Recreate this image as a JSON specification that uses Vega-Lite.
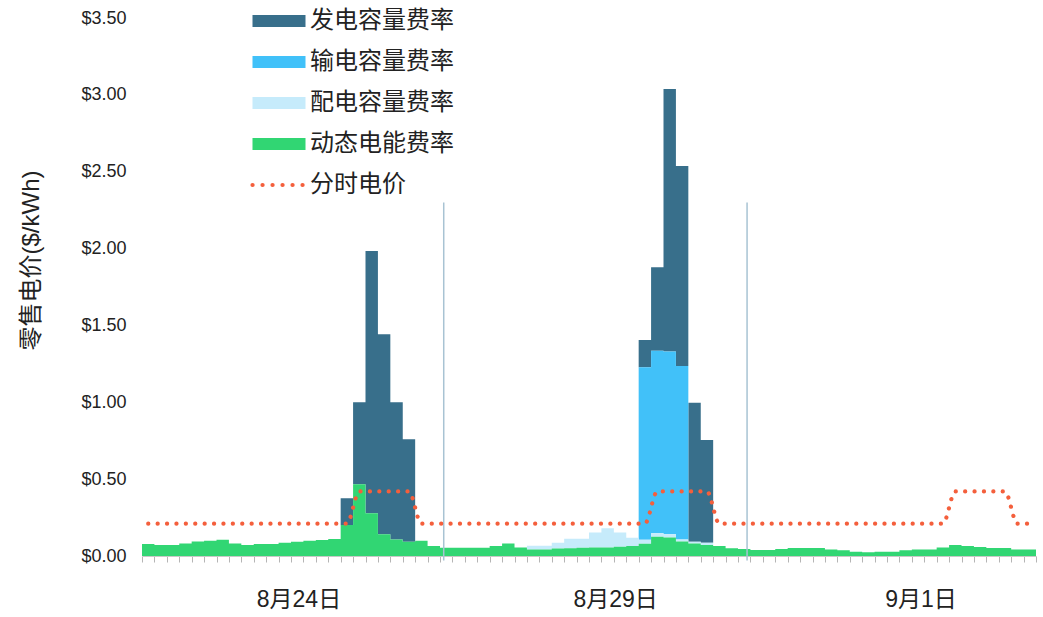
{
  "$schema": "https://vega.github.io/schema/vega-lite/v6.json",
  "width": 894,
  "height": 538,
  "autosize": {"type": "none"},
  "padding": {"left": 142, "top": 18, "right": 7, "bottom": 61},
  "background": "white",
  "config": {
    "view": {"stroke": null},
    "font": "Liberation Sans, Noto Sans CJK SC, sans-serif",
    "axis": {"grid": false}
  },
  "resolve": {"axis": {"x": "independent"}},
  "datasets": {
    "order": [
      {"k": "g", "series": "发电容量费率", "o": 4},
      {"k": "t", "series": "输电容量费率", "o": 3},
      {"k": "d", "series": "配电容量费率", "o": 2},
      {"k": "e", "series": "动态电能费率", "o": 1}
    ],
    "rates": [
      {"h": 0, "e": 0.078, "d": 0, "t": 0, "g": 0},
      {"h": 1, "e": 0.072, "d": 0, "t": 0, "g": 0},
      {"h": 2, "e": 0.072, "d": 0, "t": 0, "g": 0},
      {"h": 3, "e": 0.082, "d": 0, "t": 0, "g": 0},
      {"h": 4, "e": 0.095, "d": 0, "t": 0, "g": 0},
      {"h": 5, "e": 0.100, "d": 0, "t": 0, "g": 0},
      {"h": 6, "e": 0.106, "d": 0, "t": 0, "g": 0},
      {"h": 7, "e": 0.082, "d": 0, "t": 0, "g": 0},
      {"h": 8, "e": 0.072, "d": 0, "t": 0, "g": 0},
      {"h": 9, "e": 0.078, "d": 0, "t": 0, "g": 0},
      {"h": 10, "e": 0.078, "d": 0, "t": 0, "g": 0},
      {"h": 11, "e": 0.087, "d": 0, "t": 0, "g": 0},
      {"h": 12, "e": 0.093, "d": 0, "t": 0, "g": 0},
      {"h": 13, "e": 0.099, "d": 0, "t": 0, "g": 0},
      {"h": 14, "e": 0.104, "d": 0, "t": 0, "g": 0},
      {"h": 15, "e": 0.110, "d": 0, "t": 0, "g": 0},
      {"h": 16, "e": 0.202, "d": 0, "t": 0, "g": 0.173},
      {"h": 17, "e": 0.466, "d": 0, "t": 0, "g": 0.534},
      {"h": 18, "e": 0.278, "d": 0, "t": 0, "g": 1.706},
      {"h": 19, "e": 0.141, "d": 0, "t": 0, "g": 1.301},
      {"h": 20, "e": 0.108, "d": 0, "t": 0, "g": 0.892},
      {"h": 21, "e": 0.093, "d": 0, "t": 0, "g": 0.666},
      {"h": 22, "e": 0.100, "d": 0, "t": 0, "g": 0},
      {"h": 23, "e": 0.065, "d": 0, "t": 0, "g": 0},
      {"h": 24, "e": 0.054, "d": 0, "t": 0, "g": 0},
      {"h": 25, "e": 0.054, "d": 0, "t": 0, "g": 0},
      {"h": 26, "e": 0.054, "d": 0, "t": 0, "g": 0},
      {"h": 27, "e": 0.054, "d": 0, "t": 0, "g": 0},
      {"h": 28, "e": 0.065, "d": 0, "t": 0, "g": 0},
      {"h": 29, "e": 0.082, "d": 0, "t": 0, "g": 0},
      {"h": 30, "e": 0.056, "d": 0, "t": 0, "g": 0},
      {"h": 31, "e": 0.043, "d": 0.024, "t": 0, "g": 0},
      {"h": 32, "e": 0.043, "d": 0.024, "t": 0, "g": 0},
      {"h": 33, "e": 0.048, "d": 0.039, "t": 0, "g": 0},
      {"h": 34, "e": 0.050, "d": 0.063, "t": 0, "g": 0},
      {"h": 35, "e": 0.054, "d": 0.059, "t": 0, "g": 0},
      {"h": 36, "e": 0.056, "d": 0.097, "t": 0, "g": 0},
      {"h": 37, "e": 0.056, "d": 0.124, "t": 0, "g": 0},
      {"h": 38, "e": 0.060, "d": 0.093, "t": 0, "g": 0},
      {"h": 39, "e": 0.065, "d": 0.054, "t": 0, "g": 0},
      {"h": 40, "e": 0.080, "d": 0.025, "t": 1.123, "g": 0.177},
      {"h": 41, "e": 0.126, "d": 0.022, "t": 1.188, "g": 0.542},
      {"h": 42, "e": 0.121, "d": 0.020, "t": 1.189, "g": 1.708},
      {"h": 43, "e": 0.095, "d": 0.012, "t": 1.129, "g": 1.301},
      {"h": 44, "e": 0.082, "d": 0.011, "t": 0, "g": 0.904},
      {"h": 45, "e": 0.072, "d": 0.015, "t": 0, "g": 0.668},
      {"h": 46, "e": 0.065, "d": 0, "t": 0, "g": 0},
      {"h": 47, "e": 0.050, "d": 0, "t": 0, "g": 0},
      {"h": 48, "e": 0.046, "d": 0, "t": 0, "g": 0},
      {"h": 49, "e": 0.039, "d": 0, "t": 0, "g": 0},
      {"h": 50, "e": 0.039, "d": 0, "t": 0, "g": 0},
      {"h": 51, "e": 0.046, "d": 0, "t": 0, "g": 0},
      {"h": 52, "e": 0.052, "d": 0, "t": 0, "g": 0},
      {"h": 53, "e": 0.052, "d": 0, "t": 0, "g": 0},
      {"h": 54, "e": 0.052, "d": 0, "t": 0, "g": 0},
      {"h": 55, "e": 0.043, "d": 0, "t": 0, "g": 0},
      {"h": 56, "e": 0.037, "d": 0, "t": 0, "g": 0},
      {"h": 57, "e": 0.028, "d": 0, "t": 0, "g": 0},
      {"h": 58, "e": 0.024, "d": 0, "t": 0, "g": 0},
      {"h": 59, "e": 0.028, "d": 0, "t": 0, "g": 0},
      {"h": 60, "e": 0.028, "d": 0, "t": 0, "g": 0},
      {"h": 61, "e": 0.037, "d": 0, "t": 0, "g": 0},
      {"h": 62, "e": 0.043, "d": 0, "t": 0, "g": 0},
      {"h": 63, "e": 0.043, "d": 0, "t": 0, "g": 0},
      {"h": 64, "e": 0.056, "d": 0, "t": 0, "g": 0},
      {"h": 65, "e": 0.072, "d": 0, "t": 0, "g": 0},
      {"h": 66, "e": 0.065, "d": 0, "t": 0, "g": 0},
      {"h": 67, "e": 0.059, "d": 0, "t": 0, "g": 0},
      {"h": 68, "e": 0.052, "d": 0, "t": 0, "g": 0},
      {"h": 69, "e": 0.052, "d": 0, "t": 0, "g": 0},
      {"h": 70, "e": 0.043, "d": 0, "t": 0, "g": 0},
      {"h": 71, "e": 0.043, "d": 0, "t": 0, "g": 0},
      {"h": 72, "e": 0.043, "d": 0, "t": 0, "g": 0}
    ],
    "sep": [
      {"x": 24.3, "y": 2.3, "y2": -0.03},
      {"x": 48.73, "y": 2.3, "y2": -0.03}
    ],
    "tou": [
      {"t": 0.5, "p": 0.21}, {"t": 1.5, "p": 0.21}, {"t": 2.5, "p": 0.21}, {"t": 3.5, "p": 0.21},
      {"t": 4.5, "p": 0.21}, {"t": 5.5, "p": 0.21}, {"t": 6.5, "p": 0.21}, {"t": 7.5, "p": 0.21},
      {"t": 8.5, "p": 0.21}, {"t": 9.5, "p": 0.21}, {"t": 10.5, "p": 0.21}, {"t": 11.5, "p": 0.21},
      {"t": 12.5, "p": 0.21}, {"t": 13.5, "p": 0.21}, {"t": 14.5, "p": 0.21}, {"t": 15.5, "p": 0.21},
      {"t": 16.5, "p": 0.21}, {"t": 17.5, "p": 0.42}, {"t": 18.5, "p": 0.42}, {"t": 19.5, "p": 0.42},
      {"t": 20.5, "p": 0.42}, {"t": 21.5, "p": 0.42}, {"t": 22.5, "p": 0.21}, {"t": 23.5, "p": 0.21},
      {"t": 24.5, "p": 0.21}, {"t": 25.5, "p": 0.21}, {"t": 26.5, "p": 0.21}, {"t": 27.5, "p": 0.21},
      {"t": 28.5, "p": 0.21}, {"t": 29.5, "p": 0.21}, {"t": 30.5, "p": 0.21}, {"t": 31.5, "p": 0.21},
      {"t": 32.5, "p": 0.21}, {"t": 33.5, "p": 0.21}, {"t": 34.5, "p": 0.21}, {"t": 35.5, "p": 0.21},
      {"t": 36.5, "p": 0.21}, {"t": 37.5, "p": 0.21}, {"t": 38.5, "p": 0.21}, {"t": 39.5, "p": 0.21},
      {"t": 40.5, "p": 0.21}, {"t": 41.5, "p": 0.42}, {"t": 42.5, "p": 0.42}, {"t": 43.5, "p": 0.42},
      {"t": 44.5, "p": 0.42}, {"t": 45.5, "p": 0.42}, {"t": 46.5, "p": 0.21}, {"t": 47.5, "p": 0.21},
      {"t": 48.5, "p": 0.21}, {"t": 49.5, "p": 0.21}, {"t": 50.5, "p": 0.21}, {"t": 51.5, "p": 0.21},
      {"t": 52.5, "p": 0.21}, {"t": 53.5, "p": 0.21}, {"t": 54.5, "p": 0.21}, {"t": 55.5, "p": 0.21},
      {"t": 56.5, "p": 0.21}, {"t": 57.5, "p": 0.21}, {"t": 58.5, "p": 0.21}, {"t": 59.5, "p": 0.21},
      {"t": 60.5, "p": 0.21}, {"t": 61.5, "p": 0.21}, {"t": 62.5, "p": 0.21}, {"t": 63.5, "p": 0.21},
      {"t": 64.5, "p": 0.21}, {"t": 65.5, "p": 0.42}, {"t": 66.5, "p": 0.42}, {"t": 67.5, "p": 0.42},
      {"t": 68.5, "p": 0.42}, {"t": 69.5, "p": 0.42}, {"t": 70.5, "p": 0.21}, {"t": 71.5, "p": 0.21},
      {"t": 72, "p": 0.21}
    ]
  },
  "layer": [
    {
      "data": {"name": "rates"},
      "transform": [
        {"fold": ["g", "t", "d", "e"], "as": ["k", "value"]},
        {"lookup": "k", "from": {"data": {"name": "order"}, "key": "k", "fields": ["series", "o"]}}
      ],
      "mark": {"type": "area", "interpolate": "step-after"},
      "encoding": {
        "x": {
          "field": "h",
          "type": "quantitative",
          "scale": {"domain": [0, 72], "nice": false, "zero": false},
          "axis": {
            "orient": "bottom",
            "title": null,
            "values": [0,1,2,3,4,5,6,7,8,9,10,11,12,13,14,15,16,17,18,19,20,21,22,23,24,25,26,27,28,29,30,31,32,33,34,35,36,37,38,39,40,41,42,43,44,45,46,47,48,49,50,51,52,53,54,55,56,57,58,59,60,61,62,63,64,65,66,67,68,69,70,71,72],
            "labels": false,
            "tickSize": 6,
            "tickColor": "#b5b5b5",
            "domainColor": "#c8c8c8",
            "domainWidth": 1.2
          }
        },
        "y": {
          "field": "value",
          "type": "quantitative",
          "stack": "zero",
          "scale": {"domain": [0, 3.5], "nice": false},
          "axis": {
            "title": "零售电价($/kWh)",
            "values": [0, 0.5, 1, 1.5, 2, 2.5, 3, 3.5],
            "format": "$.2f",
            "domain": false,
            "ticks": false,
            "labelPadding": 16,
            "labelFontSize": 18,
            "labelColor": "#222222",
            "titleFontSize": 24,
            "titleFontWeight": "normal",
            "titleColor": "#222222",
            "titleX": -99,
            "titleY": 242
          }
        },
        "color": {
          "field": "series",
          "type": "nominal",
          "scale": {
            "domain": ["发电容量费率", "输电容量费率", "配电容量费率", "动态电能费率", "分时电价"],
            "range": ["#386f8b", "#41c1f9", "#c6ebfb", "#31d673", "#f45f3c"]
          },
          "legend": {
            "orient": "none",
            "legendX": 125,
            "legendY": -9,
            "title": null,
            "padding": 0,
            "labelFontSize": 24,
            "labelColor": "#222222",
            "labelOffset": 19,
            "rowPadding": 17,
            "symbolSize": 2809,
            "symbolType": "M-1,-0.226H1V0.226H-1Z",
            "encode": {
              "symbols": {
                "update": {
                  "shape": {"signal": "datum.value === '分时电价' ? 'M-1,0H1' : 'M-1,-0.226H1V0.226H-1Z'"},
                  "fill": {"signal": "datum.value === '分时电价' ? 'transparent' : datum.value === '发电容量费率' ? '#386f8b' : datum.value === '输电容量费率' ? '#41c1f9' : datum.value === '配电容量费率' ? '#c6ebfb' : '#31d673'"},
                  "stroke": {"signal": "datum.value === '分时电价' ? '#f45f3c' : 'transparent'"},
                  "strokeWidth": {"signal": "datum.value === '分时电价' ? 4.2 : 0"},
                  "strokeDash": {"signal": "datum.value === '分时电价' ? [0.1, 9.9] : [1, 0]"},
                  "strokeCap": {"value": "round"},
                  "opacity": {"value": 1},
                  "fillOpacity": {"value": 1},
                  "strokeOpacity": {"value": 1}
                }
              }
            }
          }
        },
        "order": {"field": "o", "type": "quantitative"}
      }
    },
    {
      "data": {"name": "sep"},
      "mark": {"type": "rule", "color": "#a8c3d3", "strokeWidth": 1.5, "clip": false},
      "encoding": {
        "x": {
          "field": "x",
          "type": "quantitative",
          "axis": {
            "orient": "bottom",
            "title": null,
            "values": [12.6, 38.1, 62.7],
            "labelExpr": "datum.value === 12.6 ? '8月24日' : datum.value === 38.1 ? '8月29日' : '9月1日'",
            "ticks": false,
            "domain": false,
            "labelOverlap": false,
            "labelFontSize": 23,
            "labelColor": "#222222",
            "labelPadding": 32
          }
        },
        "y": {"field": "y", "type": "quantitative"},
        "y2": {"field": "y2"}
      }
    },
    {
      "data": {"name": "tou"},
      "mark": {"type": "line", "interpolate": "monotone", "strokeWidth": 4.2, "strokeDash": [0.1, 9.3], "strokeCap": "round"},
      "encoding": {
        "x": {"field": "t", "type": "quantitative", "axis": null},
        "y": {"field": "p", "type": "quantitative"},
        "color": {"datum": "分时电价"}
      }
    }
  ]
}
